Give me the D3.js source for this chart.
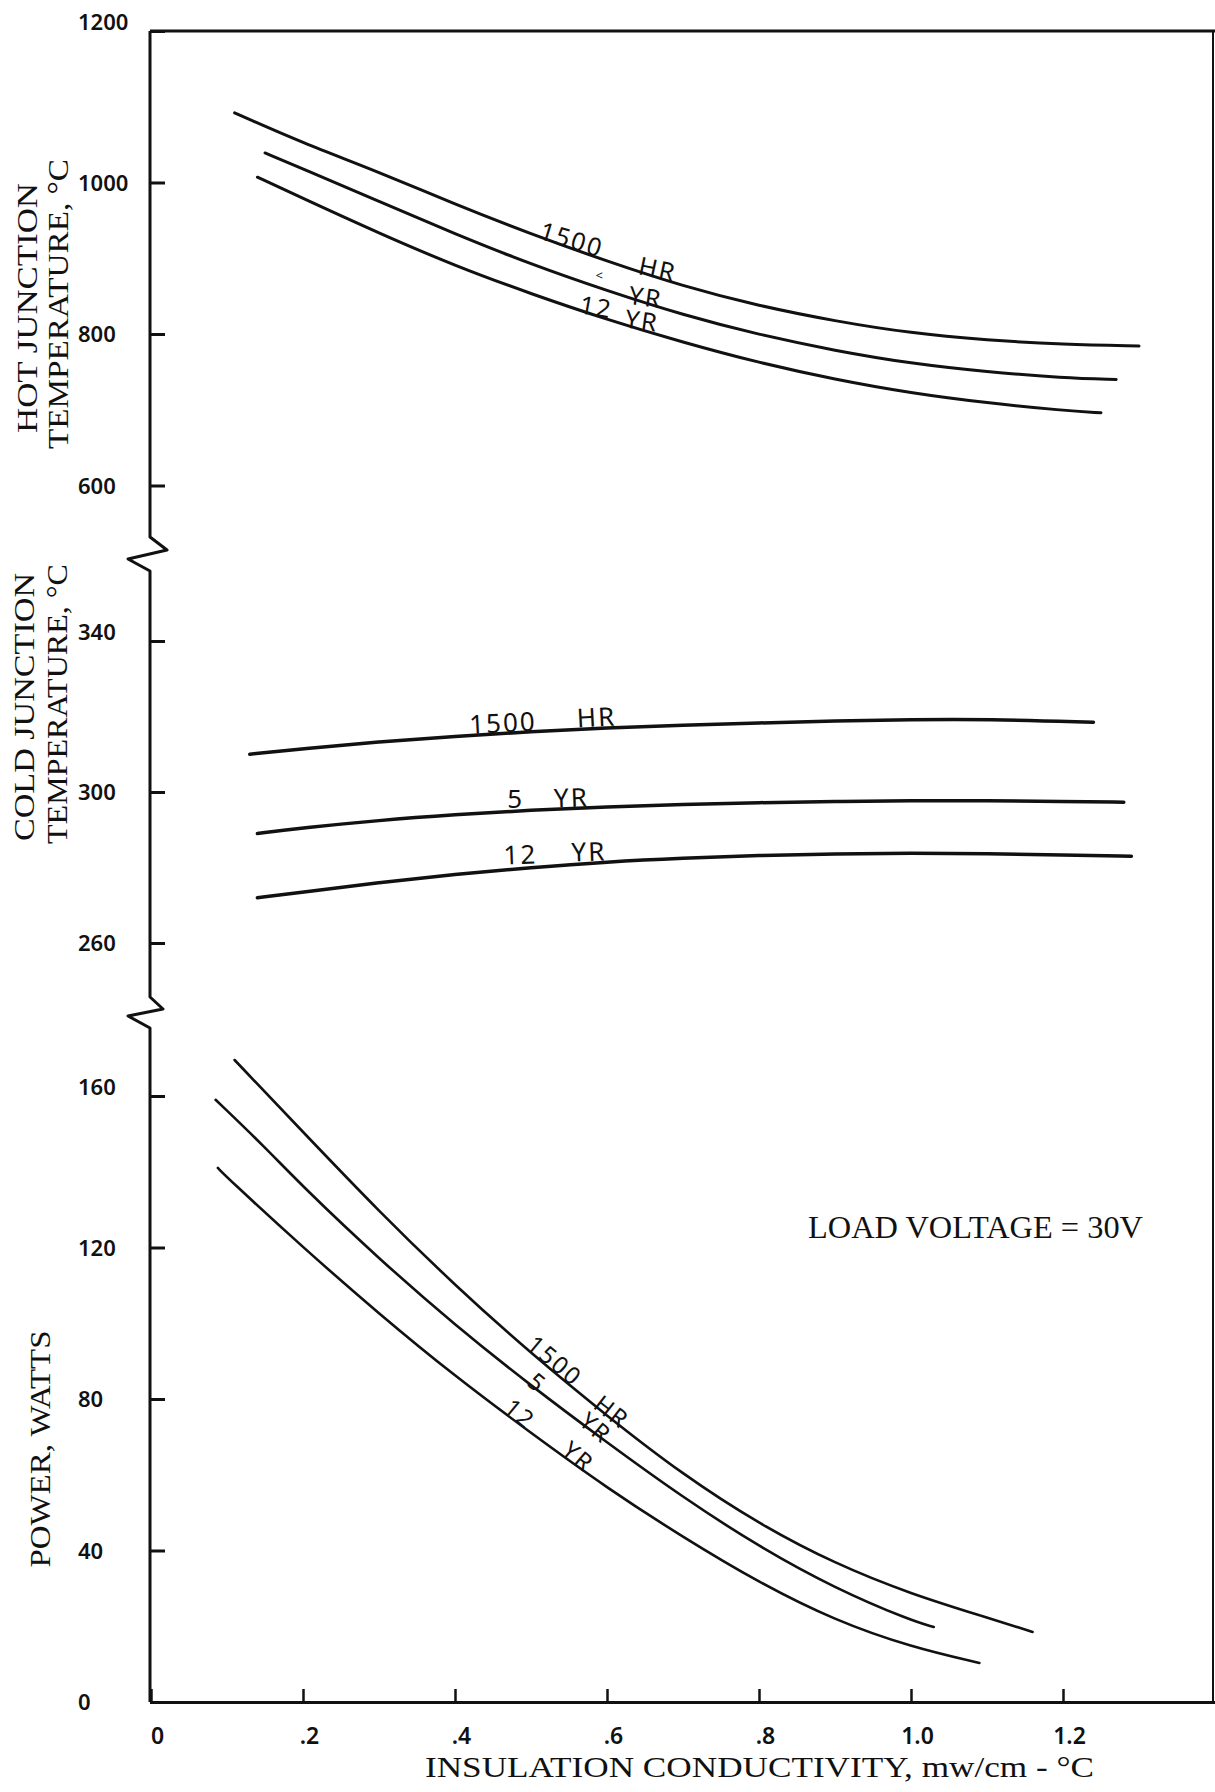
<!DOCTYPE html>
<html>
<head>
<meta charset="utf-8">
<script src="https://cdn.jsdelivr.net/npm/d3@7"></script>
<style>
  body { margin: 0; background: #fff; }
  svg { display: block; }
  .hand { font-family: "Noto Sans", "DejaVu Sans", sans-serif; fill: #111; }
  .type { font-family: "Liberation Serif", "DejaVu Serif", serif; fill: #111; }
</style>
</head>
<body>
<svg id="chart" width="1215" height="1792"></svg>
<script>
// ---- axis ticks ----
const conductivityTicks = [0, 0.2, 0.4, 0.6, 0.8, 1.0, 1.2];
const conductivityTickLabels = ["0", ".2", ".4", ".6", ".8", "1.0", "1.2"];
const hotTicks = [600, 800, 1000, 1200];
const coldTicks = [260, 300, 340];
const powerTicks = [0, 40, 80, 120, 160];

// ---- hot junction temperature, °C vs insulation conductivity ----
const hot1500Hr = [[0.11,1092],[0.2,1052],[0.3,1014],[0.4,971],[0.5,932],[0.6,896],[0.7,863],[0.8,837],[0.9,817],[1.0,801],[1.1,792],[1.2,786],[1.3,784]];
const hot5Yr    = [[0.15,1039],[0.2,1018],[0.3,975],[0.4,932],[0.5,892],[0.6,857],[0.7,825],[0.8,799],[0.9,778],[1.0,761],[1.1,750],[1.2,742],[1.27,740]];
const hot12Yr   = [[0.14,1007],[0.2,979],[0.3,933],[0.4,890],[0.5,853],[0.6,819],[0.7,789],[0.8,762],[0.9,740],[1.0,722],[1.1,709],[1.2,699],[1.25,696]];

// ---- cold junction temperature, °C ----
const cold1500Hr = [[0.13,310],[0.2,311.5],[0.3,313.3],[0.4,314.7],[0.5,316],[0.6,317],[0.7,317.7],[0.8,318.3],[0.9,318.8],[1.0,319.2],[1.1,319.3],[1.24,318.5]];
const cold5Yr    = [[0.14,289],[0.2,290.5],[0.3,292.5],[0.4,294],[0.5,295.2],[0.6,296.1],[0.7,296.7],[0.8,297.2],[0.9,297.5],[1.0,297.7],[1.1,297.7],[1.2,297.5],[1.28,297.3]];
const cold12Yr   = [[0.14,272],[0.2,273.5],[0.3,276],[0.4,278.2],[0.5,280],[0.6,281.5],[0.7,282.5],[0.8,283.2],[0.9,283.6],[1.0,283.8],[1.1,283.7],[1.2,283.3],[1.29,283]];

// ---- power, watts ----
const power1500Hr = [[0.11,169.5],[0.2,150.5],[0.3,129.5],[0.4,110],[0.5,92],[0.6,75.5],[0.7,60],[0.8,47],[0.9,36.5],[1.0,28.5],[1.1,22.3],[1.16,18.5]];
const power5Yr    = [[0.085,159],[0.15,146.5],[0.2,136],[0.3,117],[0.4,99.5],[0.5,83.5],[0.6,68.5],[0.7,54],[0.8,41],[0.9,30],[1.0,21.5],[1.03,19.8]];
const power12Yr   = [[0.088,141],[0.1,138.5],[0.2,120],[0.3,102.5],[0.4,86],[0.5,71],[0.6,56.5],[0.7,43.5],[0.8,31.5],[0.9,21.5],[1.0,14.5],[1.09,10.3]];

// ---- hand-lettered curve labels: [text, x, value, rotation] ----
const hotCurveLabels = [["1500",0.554,926,17],["HR",0.667,887,12],["<",0.591,878,0],["YR",0.651,850,8],["12",0.586,837,10],["YR",0.646,819,8]];
const coldCurveLabels = [["1500",0.463,318.5,-3],["HR",0.586,320,-3],["5",0.480,298.4,0],["YR",0.553,298.7,-2],["12",0.486,283.6,-2],["YR",0.576,284.4,-2]];
const powerCurveLabels = [["1500",0.532,90.3,40],["HR",0.607,76.8,38],["5",0.509,84.5,40],["YR",0.586,72.6,40],["12",0.486,76.3,40],["YR",0.563,65.0,40]];

const svg = d3.select("#chart");

const x = d3.scaleLinear().domain([0, 1.4]).range([151, 1215]);
const yHot = d3.scaleLinear().domain([600, 1200]).range([485.5, 31]);
const yCold = d3.scaleLinear().domain([260, 340]).range([943, 641]);
const yPower = d3.scaleLinear().domain([0, 160]).range([1702, 1096]);

const axisX = 150;
const ink = "#111";

// frame: top rule, right rule and the broken left spine
const frameTop = yHot.range()[1];
const frameBottom = yPower.range()[0];
svg.append("line").attr("x1", axisX).attr("x2", 1215).attr("y1", frameTop).attr("y2", frameTop)
  .attr("stroke", ink).attr("stroke-width", 3);
svg.append("line").attr("x1", 1213).attr("x2", 1213).attr("y1", frameTop).attr("y2", frameBottom)
  .attr("stroke", ink).attr("stroke-width", 2);

const spine = d3.path();
spine.moveTo(axisX, frameTop);
spine.lineTo(axisX, 537); spine.lineTo(167, 550); spine.lineTo(128, 559); spine.lineTo(axisX, 571);
spine.lineTo(axisX, 997); spine.lineTo(163, 1009); spine.lineTo(128, 1016); spine.lineTo(axisX, 1028);
spine.lineTo(axisX, frameBottom);
svg.append("path").attr("d", spine.toString()).attr("fill", "none")
  .attr("stroke", ink).attr("stroke-width", 3).attr("stroke-linejoin", "round");

// left axes, one per panel
function leftAxis(scale, ticks) {
  const g = svg.append("g").attr("transform", `translate(${axisX},0)`)
    .call(d3.axisLeft(scale).tickValues(ticks).tickSizeInner(-15).tickSizeOuter(0).tickFormat(d3.format("d")));
  g.select(".domain").remove();
  g.selectAll(".tick line").attr("stroke", ink).attr("stroke-width", 3);
  g.selectAll(".tick text")
    .attr("class", "hand")
    .attr("x", -72).attr("text-anchor", "start")
    .attr("dy", d => d === scale.domain()[1] ? "-0.05em" : "0.35em")
    .style("font-size", "22px").style("font-weight", "600");
  return g;
}
leftAxis(yHot, hotTicks);
leftAxis(yCold, coldTicks);
leftAxis(yPower, powerTicks);

// bottom axis
const gx = svg.append("g").attr("transform", `translate(0,${frameBottom})`)
  .call(d3.axisBottom(x).tickValues(conductivityTicks).tickSizeInner(-13).tickSizeOuter(0)
    .tickFormat((d, i) => conductivityTickLabels[i]));
gx.select(".domain").attr("stroke", ink).attr("stroke-width", 3);
gx.selectAll(".tick line").attr("stroke", ink).attr("stroke-width", 2.5);
gx.selectAll(".tick text").attr("class", "hand")
  .attr("y", 34).attr("dy", "0.35em").attr("dx", 6)
  .style("font-size", "23px").style("font-weight", "600");

// curves
const line = (yScale) => d3.line().x(d => x(d[0])).y(d => yScale(d[1])).curve(d3.curveBasis);
const panels = [
  { y: yHot, series: [hot1500Hr, hot5Yr, hot12Yr], width: 3, labels: hotCurveLabels, size: 25 },
  { y: yCold, series: [cold1500Hr, cold5Yr, cold12Yr], width: 3.5, labels: coldCurveLabels, size: 26 },
  { y: yPower, series: [power1500Hr, power5Yr, power12Yr], width: 2.6, labels: powerCurveLabels, size: 24 }
];
panels.forEach(p => {
  svg.append("g").selectAll("path").data(p.series).join("path")
    .attr("d", line(p.y)).attr("fill", "none").attr("stroke", ink)
    .attr("stroke-width", p.width).attr("stroke-linecap", "round");
  svg.append("g").selectAll("text").data(p.labels).join("text")
    .attr("class", "hand")
    .attr("transform", d => `translate(${x(d[1])},${p.y(d[2])}) rotate(${d[3]})`)
    .attr("text-anchor", "middle").attr("dominant-baseline", "central")
    .style("font-size", d => (d[0] === "<" ? 13 : p.size) + "px")
    .style("letter-spacing", "2px")
    .text(d => d[0]);
});

// typed titles
function vTitle(text, cx, cy, len) {
  svg.append("text").attr("class", "type")
    .attr("transform", `translate(${cx},${cy}) rotate(-90)`)
    .attr("text-anchor", "middle")
    .attr("textLength", len).attr("lengthAdjust", "spacingAndGlyphs")
    .style("font-size", "30px")
    .text(text);
}
vTitle("HOT JUNCTION", 37, 308, 250);
vTitle("TEMPERATURE, °C", 68, 304, 290);
vTitle("COLD JUNCTION", 34, 707, 268);
vTitle("TEMPERATURE, °C", 67, 704, 280);
vTitle("POWER, WATTS", 50, 1449, 237);

svg.append("text").attr("class", "type")
  .attr("x", 425).attr("y", 1777)
  .attr("textLength", 669).attr("lengthAdjust", "spacingAndGlyphs")
  .style("font-size", "30px")
  .text("INSULATION CONDUCTIVITY, mw/cm - °C");

svg.append("text").attr("class", "type")
  .attr("x", 808).attr("y", 1238)
  .attr("textLength", 335).attr("lengthAdjust", "spacingAndGlyphs")
  .style("font-size", "32px")
  .text("LOAD VOLTAGE = 30V");
</script>
</body>
</html>
